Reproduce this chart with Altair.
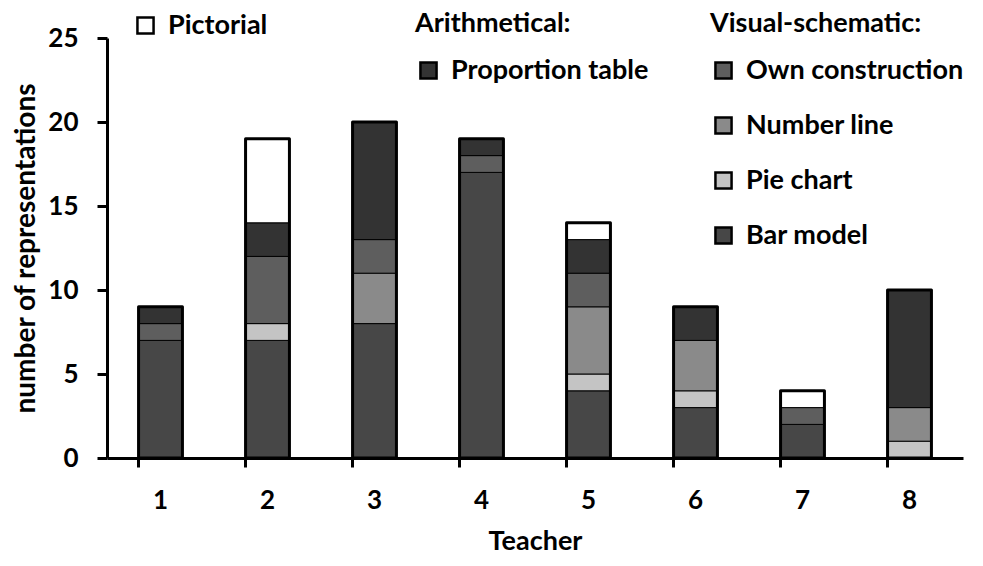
import altair as alt
import pandas as pd

teachers = ["1", "2", "3", "4", "5", "6", "7", "8"]
bar_model = [7, 7, 8, 17, 4, 3, 2, 0]
pie_chart = [0, 1, 0, 0, 1, 1, 0, 1]
number_line = [0, 0, 3, 0, 4, 3, 0, 2]
own_construction = [1, 4, 2, 1, 2, 0, 1, 0]
proportion_table = [1, 2, 7, 1, 2, 2, 0, 7]
pictorial = [0, 5, 0, 0, 1, 0, 1, 0]

series = [
    ("Bar model", "Visual-schematic", bar_model),
    ("Pie chart", "Visual-schematic", pie_chart),
    ("Number line", "Visual-schematic", number_line),
    ("Own construction", "Visual-schematic", own_construction),
    ("Proportion table", "Arithmetical", proportion_table),
    ("Pictorial", "Pictorial", pictorial),
]
rows = []
for order, (cat, grp, vals) in enumerate(series):
    for t, v in zip(teachers, vals):
        rows.append({"teacher": t, "category": cat, "group": grp, "order": order, "count": v})
df = pd.DataFrame(rows)

FONT = "Lato"

xscale = alt.Scale(domain=teachers, paddingInner=0.59, paddingOuter=0.295)
yscale = alt.Scale(domain=[0, 25])

base = alt.Chart(df).transform_stack(
    stack="count", groupby=["teacher"], as_=["y0", "y1"],
    sort=[alt.SortField("order", order="ascending")]
).transform_filter("datum.count > 0")

x_lab = alt.X("teacher:O", scale=xscale, title="Teacher",
              axis=alt.Axis(orient="bottom", labelAngle=0, ticks=False, tickSize=0, domain=False,
                            labelPadding=29,
                            labelFontSize=26, labelFontWeight="bold", labelFont=FONT,
                            titleFontSize=27, titleFontWeight="bold", titleFont=FONT,
                            titlePadding=15, titleColor="black", labelColor="black"))
y_enc = alt.Y("y0:Q", scale=yscale, title="number of representations",
              axis=alt.Axis(values=[0, 5, 10, 15, 20, 25], grid=False, domainWidth=3,
                            domainColor="black", tickColor="black", tickWidth=3, tickSize=10,
                            labelFontSize=26, labelFontWeight="bold", labelFont=FONT,
                            labelColor="black", labelPadding=19,
                            titleFontSize=28, titleFontWeight="bold", titleFont=FONT,
                            titleColor="black", titlePadding=7))

leg_common = dict(orient="none", symbolType="square", symbolSize=260, symbolStrokeWidth=2.5,
                  symbolStrokeColor="black", labelFontSize=27, labelFontWeight="bold",
                  labelFont=FONT, labelColor="black", titleFontSize=27, titleFontWeight="bold",
                  titleFont=FONT, titleColor="black", rowPadding=27, titlePadding=19,
                  labelOffset=9, labelLimit=400, titleLimit=400)

visual = base.transform_filter("datum.group == 'Visual-schematic'").mark_bar(
    stroke="black", strokeWidth=1).encode(
    x=x_lab, y=y_enc, y2="y1:Q",
    fill=alt.Fill("category:N",
                  scale=alt.Scale(domain=["Own construction", "Number line", "Pie chart", "Bar model"],
                                  range=["#5e5e5e", "#8a8a8a", "#c4c4c4", "#474747"]),
                  legend=alt.Legend(title="Visual-schematic:", legendX=603, legendY=-27, **leg_common)))

arith = base.transform_filter("datum.group == 'Arithmetical'").mark_bar(
    stroke="black", strokeWidth=1).encode(
    x=alt.X("teacher:O", scale=xscale, axis=None), y=alt.Y("y0:Q", scale=yscale), y2="y1:Q",
    fill=alt.Fill("category:N", scale=alt.Scale(domain=["Proportion table"], range=["#333333"]),
                  legend=alt.Legend(title="Arithmetical:", legendX=308, legendY=-27, **leg_common)))

pict = base.transform_filter("datum.group == 'Pictorial'").mark_bar(
    stroke="black", strokeWidth=1).encode(
    x=alt.X("teacher:O", scale=xscale, axis=None), y=alt.Y("y0:Q", scale=yscale), y2="y1:Q",
    fill=alt.Fill("category:N", scale=alt.Scale(domain=["Pictorial"], range=["#ffffff"]),
                  legend=alt.Legend(title=None, legendX=25, legendY=-26, **leg_common)))

outline = alt.Chart(df).transform_aggregate(
    total="sum(count)", groupby=["teacher"]).mark_bar(
    fill="transparent", stroke="black", strokeWidth=3, strokeJoin="round").encode(
    x=alt.X("teacher:O", scale=xscale, title="",
            axis=alt.Axis(orient="bottom", labels=False, title="", bandPosition=0, tickColor="black",
                          tickWidth=3, tickSize=9, domainColor="black", domainWidth=3)),
    y=alt.Y("total:Q", scale=yscale))

chart = alt.layer(visual, arith, pict, outline).resolve_scale(
    fill="independent").resolve_axis(x="independent").properties(
    width=856, height=420,
    autosize=alt.AutoSizeParams(type="none"),
    padding={"left": 99, "top": 30, "right": 12, "bottom": 100},
).configure(background="white").configure_view(strokeWidth=0)

chart.save("out.html", embed_options={"renderer": "svg", "actions": False})
